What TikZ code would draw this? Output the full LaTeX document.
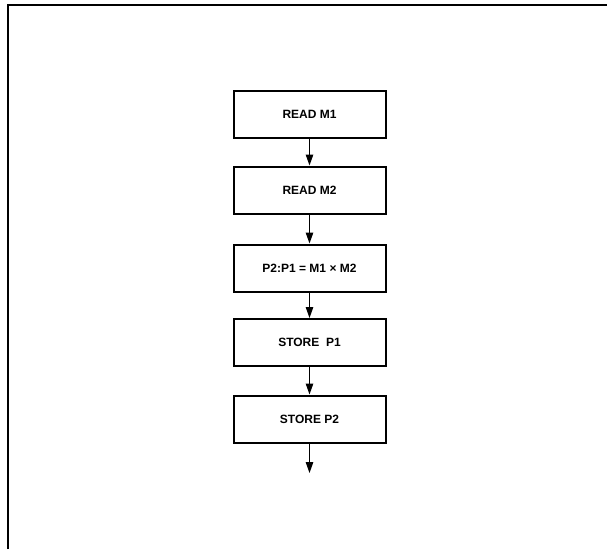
\documentclass[tikz,border=0pt]{standalone}
\usepackage{fontspec}
\setmainfont{Liberation Sans}
\usetikzlibrary{arrows.meta}
\begin{document}
\begin{tikzpicture}[x=1pt,y=-1pt,
  stepbox/.style={draw, line width=2pt, minimum width=152pt, minimum height=47pt, inner sep=0pt, font=\fontsize{12}{14}\selectfont\bfseries},
  flow/.style={line width=1.1pt, -{Stealth[length=11pt,width=7.5pt,inset=0pt]}}]
\useasboundingbox (0,0) rectangle (607,549);
\draw[line width=2pt] (7.8,549) -- (7.8,4.6) -- (607,4.6);
\node[stepbox] (r1) at (309.5,114.5) {READ M1};
\node[stepbox] (r2) at (309.5,190) {READ M2};
\node[stepbox] (mul) at (309.5,268) {P2:P1 = M1 × M2};
\node[stepbox] (s1) at (309.5,342.5) {STORE\ \ P1};
\node[stepbox] (s2) at (309.5,419) {STORE P2};
\coordinate (end) at (309.5,473);
\draw[flow] (r1) -- (r2);
\draw[flow] (r2) -- (mul);
\draw[flow] (mul) -- (s1);
\draw[flow] (s1) -- (s2);
\draw[flow] (s2) -- (end);
\end{tikzpicture}
\end{document}
